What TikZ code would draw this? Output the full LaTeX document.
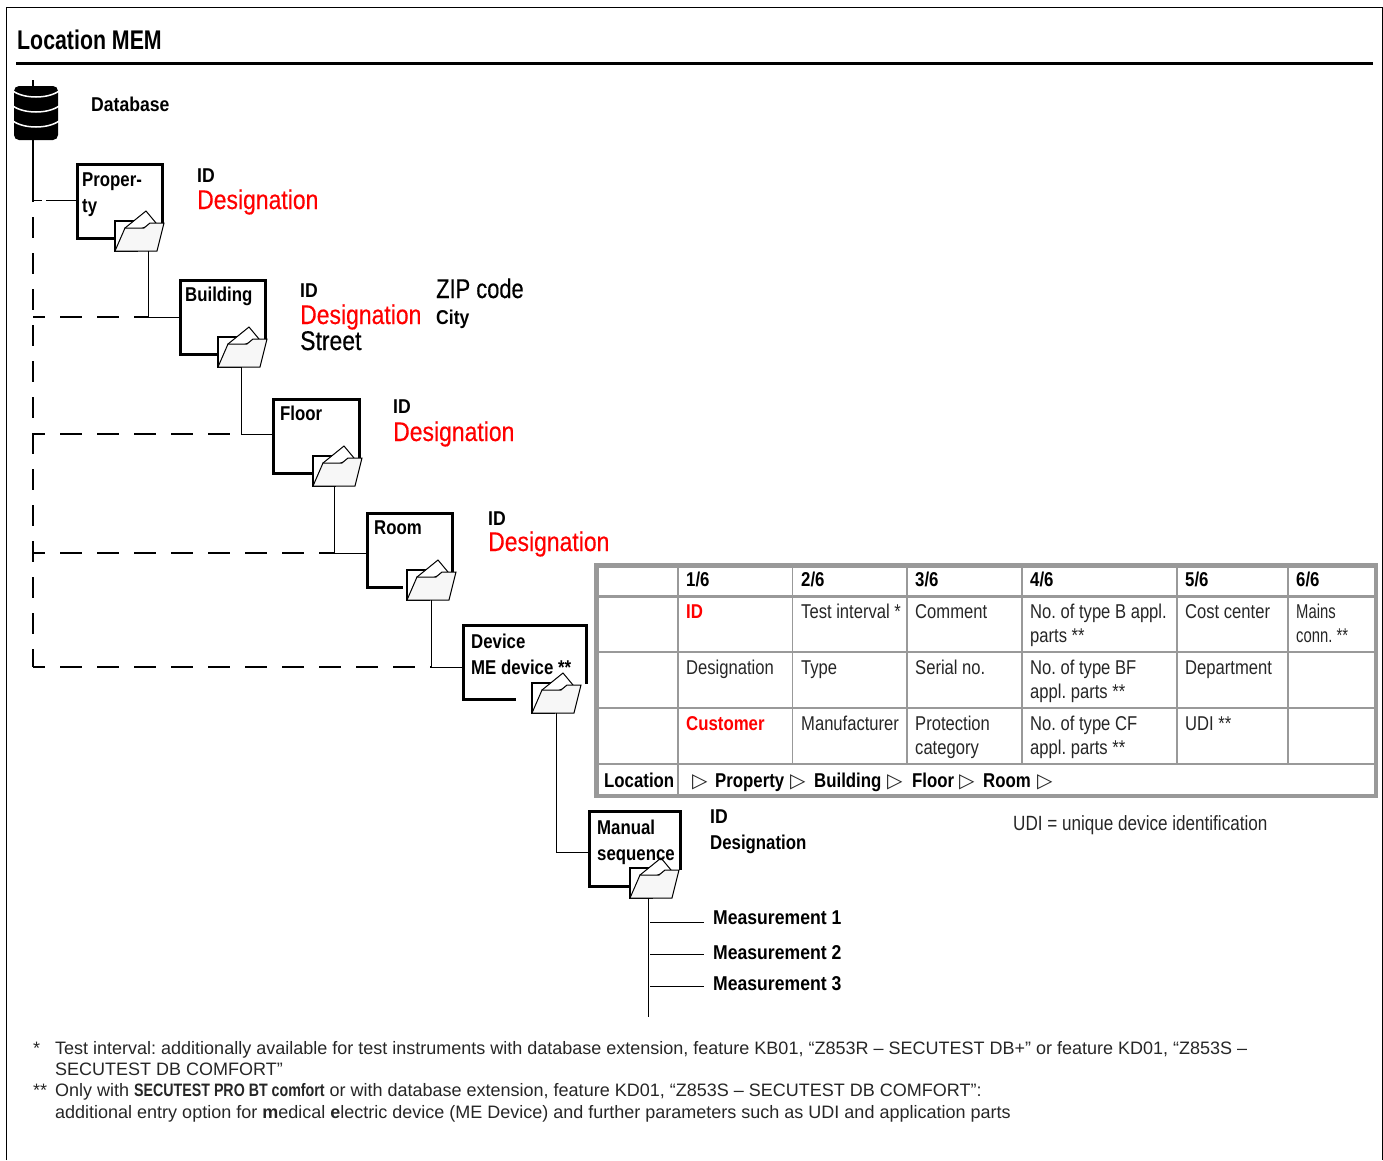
\documentclass[tikz,border=0pt]{standalone}
\usepackage{fontspec}
\setmainfont{Liberation Sans}
\newfontfamily\condfont[FakeStretch=0.83]{Liberation Sans}
\newfontfamily\narrowfont[FakeStretch=0.74]{Liberation Sans}
\newfontfamily\strongfont[FakeStretch=0.88]{Liberation Sans}
\newfontfamily\cellfont[FakeStretch=0.84]{Liberation Sans}
\newfontfamily\headfont[FakeStretch=0.79]{Liberation Sans}
\newfontfamily\bigfont[FakeStretch=0.85,FakeBold=0.4]{Liberation Sans}
\newfontfamily\zipfont[FakeStretch=0.81,FakeBold=0.4]{Liberation Sans}
\newfontfamily\symfont{DejaVu Sans}
\usetikzlibrary{positioning}
\usetikzlibrary{calc}
\definecolor{tablegray}{RGB}{153,153,153}
\tikzstyle{levelbox}=[draw,line width=3pt,inner sep=0pt,outer sep=0pt,anchor=north west]
\tikzstyle{boldtext}=[font=\strongfont\fontsize{20}{24}\selectfont\bfseries,anchor=base west,inner sep=0pt]
\tikzstyle{cellbold}=[font=\cellfont\fontsize{20}{24}\selectfont\bfseries,anchor=base west,inner sep=0pt]
\tikzstyle{plaintext}=[font=\condfont\fontsize{20}{24}\selectfont,anchor=base west,inner sep=0pt,text=black!85]
\tikzstyle{bigtext}=[font=\bigfont\fontsize{27}{30}\selectfont,anchor=base west,inner sep=0pt]
\tikzstyle{notetext}=[font=\fontsize{18}{22}\selectfont,anchor=base west,inner sep=0pt,text=black!85]
\tikzstyle{trunkedge}=[draw,line width=2pt,dash pattern=on 21pt off 15pt,dash phase=19pt]
\tikzstyle{dashededge}=[draw,line width=2pt,dash pattern=on 22pt off 15pt,dash phase=10pt]
\tikzstyle{thinedge}=[draw,line width=1pt]
\tikzstyle{tableline}=[draw,tablegray,line width=1.2pt]
\tikzstyle{tableframe}=[draw,tablegray,line width=4.5pt]
\newcommand{\drawfolder}[4]{
  \begin{scope}[shift={(#1,#2)}]
    \fill[white] (0,0) rectangle (52,-28);
    \draw[line width=2pt,fill=white] (0,0) -- (0,-30) -- (22,-30) -- (22,0) -- cycle;
    \draw[line width=1pt,fill=white] (10,-23) -- (31,-40) -- (41,-28) -- (20,-20) -- cycle;
    \draw[line width=1pt,fill=black!3] (0,0) -- (10,-23) -- (29,-23) -- (35,-28) -- (49,-28) -- (42,0) -- cycle;
    \coordinate (#3) at (#4,0);
  \end{scope}
}
\begin{document}
\frenchspacing
\begin{tikzpicture}[x=1pt,y=-1pt]
    \useasboundingbox (0,0) rectangle (1383,1160);
    \draw[line width=1pt] (6,1160) -- (6,7.5) -- (1382,7.5) -- (1382,1160);

    % heading
    \node[boldtext,font=\headfont\fontsize{27}{30}\selectfont\bfseries] (heading) at (17,49) {Location MEM};
    \draw[line width=3pt] (16,63) -- (1373,63);

    % database symbol
    \node[fill=black,rounded corners=5pt,minimum width=44pt,minimum height=54pt,inner sep=0pt,outer sep=0pt] (database) at (36,113) {};
    \foreach \ypos in {91,106,121}
        \draw[white,line width=1.5pt] (13,\ypos) .. controls (24,\ypos+8) and (48,\ypos+8) .. (59,\ypos);
    \node[boldtext] (databasetext) at (91,111) {Database};

    % the boxes of the levels
    \foreach \pos/\name/\wid/\hei in {(77,164)/property/85/74, (180,280)/building/85/74, (273,399)/floor/86/74, (367,513)/room/85/74, (463,625)/device/123/74, (589,811)/manual/91/75}
        \node[levelbox,minimum width=\wid pt,minimum height=\hei pt] (\name) at \pos {};
    \fill[white] (516,695) rectangle (531,703);
    \fill[white] (575,684) rectangle (590,702);
    \fill[white] (403,585) rectangle (406,590);

    % the folders on the boxes
    \foreach \xpos/\ypos/\name/\drop in {115/251/propertyfolder/33, 218/367/buildingfolder/23, 313/486/floorfolder/21, 407/600/roomfolder/24, 532/713/devicefolder/24, 630/898/manualfolder/18}
        \drawfolder{\xpos}{\ypos}{\name}{\drop};

    % joints and free ends of the connectors
    \foreach \pos/\name in {(33,80)/trunktop, (33,86)/trunkicon, (33,200)/trunkone, (33,317)/trunktwo, (33,434)/trunkthree, (33,553)/trunkfour, (33,667)/trunkfive, (180,317)/buildingjoin, (273,434)/floorjoin, (367,553)/roomjoin, (463,667)/devicejoin, (589,852)/manualjoin, (77,200)/propertyjoin, (648,1017)/listend, (650,922)/onestart, (704,922)/oneend, (650,954)/twostart, (704,954)/twoend, (650,986)/threestart, (704,986)/threeend}
        \node[coordinate] (\name) at \pos {};

    % connectors
    \path[draw,line width=2pt] (trunktop) -- (trunkicon);
    \path[draw,line width=2pt] (database.south -| trunkone) -- (trunkone);
    \path[trunkedge] (trunkone) -- (trunkfive);
    \foreach \source/\dest in {trunktwo/propertyfolder, trunkthree/buildingfolder, trunkfour/floorfolder, trunkfive/roomfolder}
        \path[dashededge] (\source) -- (\source -| \dest);
    \path[thinedge,dash pattern=on 9pt off 4pt on 40pt] (trunkone) -- (propertyjoin);
    \foreach \source/\dest in {propertyfolder/buildingjoin, buildingfolder/floorjoin, floorfolder/roomjoin, roomfolder/devicejoin, devicefolder/manualjoin}
        \path[thinedge] (\source) |- (\dest);
    \path[thinedge] (manualfolder) -- (listend);
    \foreach \source/\dest in {onestart/oneend, twostart/twoend, threestart/threeend}
        \path[thinedge] (\source) -- (\dest);

    % texts in the boxes
    \foreach \pos/\name/\label in {(82,186)/propertya/Proper-, (82,212)/propertyb/ty, (185,301)/buildinga/Building, (280,420)/floora/Floor, (374,534)/rooma/Room, (471,648)/devicea/Device, (471,674)/deviceb/ME device **, (597,834)/manuala/Manual, (597,860)/manualb/sequence, (710,849)/manualdes/Designation}
        \node[cellbold] (\name) at \pos {\label};

    % texts beside the boxes
    \foreach \pos/\name/\label in {(197,182)/propertyid/ID, (300,297)/buildingid/ID, (436,324)/buildingcity/City, (393,413)/floorid/ID, (488,525)/roomid/ID, (710,823)/manualid/ID, (713,924)/measa/Measurement 1, (713,959)/measb/Measurement 2, (713,990)/measc/Measurement 3}
        \node[boldtext] (\name) at \pos {\label};
    \foreach \pos/\name in {(197,209)/propertydes, (300,324)/buildingdes, (393,441)/floordes, (488,551)/roomdes}
        \node[bigtext,text=red] (\name) at \pos {Designation};
    \node[bigtext,font=\zipfont\fontsize{27}{30}\selectfont] (buildingzip) at (436,298) {ZIP code};
    \node[bigtext] (buildingstreet) at (300,350) {Street};

    % table
    \foreach \xpos in {678,792.5,907,1022,1177,1288}
        \path[tableline] (\xpos,567) -- (\xpos,764);
    \path[tableline] (678,764) -- (678,794);
    \foreach \ypos in {652,708,764}
        \path[tableline] (598,\ypos) -- (1374,\ypos);
    \path[tableline,line width=3.5pt] (598,596.5) -- (1374,596.5);
    \path[tableframe] (596.5,565.5) rectangle (1376,796);

    \foreach \pos/\name/\label in {(686,586)/heada/1\slash 6, (801,586)/headb/2\slash 6, (915,586)/headc/3\slash 6, (1030,586)/headd/4\slash 6, (1185,586)/heade/5\slash 6, (1296,586)/headf/6\slash 6, (604,787)/locationtext/Location, (715,787)/pathprop/Property, (814,787)/pathbuild/Building, (912,787)/pathfloor/Floor, (983,787)/pathroom/Room}
        \node[cellbold] (\name) at \pos {\label};
    \foreach \pos/\name in {(692,787)/arrowa, (790,787)/arrowb, (887,787)/arrowc, (959,787)/arrowd, (1037,787)/arrowe}
        \node[plaintext,font=\symfont\fontsize{20}{24}\selectfont] (\name) at \pos {▷};
    \foreach \pos/\name/\label in {(686,618)/cellida/ID, (686,730)/cellcust/Customer}
        \node[cellbold,text=red] (\name) at \pos {\label};
    \foreach \pos/\name/\label in {(686,674)/celldes/Designation, (801,618)/celltest/Test interval *, (801,674)/celltype/Type, (801,730)/cellmanu/Manufacturer, (915,618)/cellcomm/Comment, (915,674)/cellser/Serial no., (915,730)/cellprot/Protection, (915,754)/cellcat/category, (1030,618)/cellb/No. of type B appl., (1030,642)/cellbb/parts **, (1030,674)/cellbf/No. of type BF, (1030,698)/cellbfb/appl. parts **, (1030,730)/cellcf/No. of type CF, (1030,754)/cellcfb/appl. parts **, (1185,618)/cellcost/Cost center, (1185,674)/celldep/Department, (1185,730)/celludi/UDI **}
        \node[plaintext] (\name) at \pos {\label};
    \foreach \pos/\name/\label in {(1296,618)/cellmains/Mains, (1296,642)/cellconn/conn. **}
        \node[plaintext,font=\narrowfont\fontsize{20}{24}\selectfont] (\name) at \pos {\label};
    \node[plaintext,font=\condfont\fontsize{20.6}{24}\selectfont] (udinote) at (1013,830) {UDI = unique device identification};

    % footnotes
    \foreach \pos/\name/\label in {(33,1054)/notea/*, (55,1054)/noteb/{Test interval: additionally available for test instruments with database extension, feature KB01, “Z853R – SECUTEST DB+” or feature KD01, “Z853S –}, (55,1075)/notec/{SECUTEST DB COMFORT”}, (33,1096)/noted/**, (55,1096)/notee/{Only with {\headfont\bfseries SECUTEST PRO BT comfort} or with database extension, feature KD01, “Z853S – SECUTEST DB COMFORT”:}, (55,1118)/notef/{additional entry option for {\bfseries m}edical {\bfseries e}lectric device (ME Device) and further parameters such as UDI and application parts}}
        \node[notetext] (\name) at \pos {\label};
\end{tikzpicture}
\end{document}
